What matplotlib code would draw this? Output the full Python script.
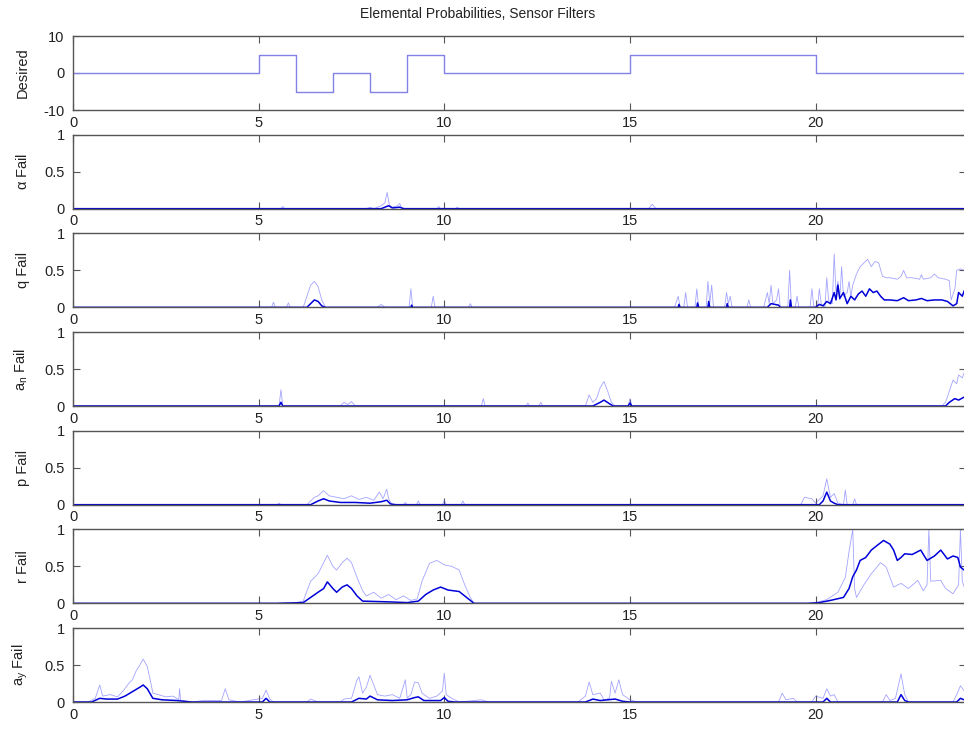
import numpy as np
import matplotlib
matplotlib.use("Agg")
import matplotlib.pyplot as plt

plt.rcParams['font.family'] = ['Liberation Sans', 'DejaVu Sans']
plt.rcParams['mathtext.fontset'] = 'custom'
plt.rcParams['mathtext.rm'] = 'Liberation Sans'
plt.rcParams['mathtext.it'] = 'Liberation Sans'
plt.rcParams['axes.unicode_minus'] = False

# ---- commanded input ----
desired_t = [0, 5, 6, 7, 8, 9, 10, 15, 20, 24]
desired_v = [0, 5, -5, 0, -5, 5, 0, 5, 0, 0]

# ---- failure probabilities, (time, probability) pairs ----
alpha_light = [(0, 0), (5.6, 0), (5.65, 0.03), (5.7, 0), (7.9, 0), (8.0, 0.02), (8.1, 0),
               (8.3, 0.04), (8.4, 0.08), (8.46, 0.22), (8.52, 0.05), (8.6, 0.02), (8.75, 0.04),
               (8.8, 0.07), (8.85, 0.01), (9.0, 0), (9.8, 0), (9.85, 0.03), (9.9, 0), (10.3, 0),
               (10.35, 0.02), (10.4, 0), (15.5, 0), (15.6, 0.06), (15.7, 0), (24, 0)]
alpha_dark = [(0, 0), (8.3, 0), (8.4, 0.02), (8.5, 0.04), (8.6, 0.01), (8.8, 0.02), (8.9, 0), (24, 0)]

q_light = [(0, 0), (5.35, 0), (5.4, 0.07), (5.45, 0), (5.75, 0), (5.8, 0.06), (5.85, 0),
           (6.2, 0), (6.3, 0.15), (6.4, 0.3), (6.5, 0.35), (6.6, 0.28), (6.7, 0.1), (6.8, 0),
           (8.2, 0), (8.3, 0.04), (8.4, 0), (9.05, 0), (9.1, 0.25), (9.15, 0), (9.65, 0),
           (9.7, 0.15), (9.75, 0), (10.65, 0), (10.7, 0.05), (10.75, 0), (16.2, 0), (16.3, 0.15),
           (16.35, 0), (16.45, 0), (16.5, 0.2), (16.55, 0), (16.75, 0), (16.8, 0.25), (16.85, 0),
           (17.05, 0), (17.1, 0.35), (17.15, 0.05), (17.2, 0.3), (17.25, 0), (17.55, 0),
           (17.6, 0.2), (17.65, 0.05), (17.7, 0.15), (17.75, 0), (18.15, 0), (18.2, 0.1),
           (18.25, 0), (18.6, 0), (18.7, 0.2), (18.75, 0.05), (18.8, 0.3), (18.85, 0.05),
           (18.95, 0.1), (19.0, 0.25), (19.05, 0), (19.25, 0), (19.3, 0.5), (19.35, 0),
           (19.45, 0), (19.5, 0.15), (19.55, 0), (19.85, 0), (19.9, 0.25), (19.95, 0.02),
           (20.05, 0), (20.1, 0.25), (20.15, 0.05), (20.25, 0), (20.3, 0.4), (20.35, 0.1),
           (20.45, 0.05), (20.5, 0.72), (20.55, 0.2), (20.6, 0.35), (20.65, 0.1), (20.7, 0.55),
           (20.75, 0.15), (20.85, 0.2), (20.9, 0.35), (20.95, 0.15), (21.0, 0.3), (21.1, 0.45),
           (21.2, 0.55), (21.3, 0.6), (21.4, 0.65), (21.5, 0.55), (21.6, 0.62), (21.7, 0.6),
           (21.8, 0.42), (21.9, 0.4), (22.0, 0.4), (22.2, 0.38), (22.3, 0.42), (22.37, 0.5),
           (22.45, 0.4), (22.6, 0.4), (22.8, 0.38), (22.85, 0.44), (22.9, 0.38), (23.1, 0.4),
           (23.2, 0.45), (23.3, 0.4), (23.5, 0.38), (23.6, 0.36), (23.65, 0.1), (23.75, 0.25),
           (23.8, 0.5), (23.9, 0.52), (24, 0.5)]
q_dark = [(0, 0), (6.3, 0), (6.4, 0.05), (6.5, 0.1), (6.6, 0.08), (6.7, 0.02), (6.8, 0),
          (9.1, 0), (9.12, 0.03), (9.15, 0), (16.3, 0), (16.32, 0.04), (16.35, 0), (16.8, 0),
          (16.82, 0.06), (16.85, 0), (17.1, 0), (17.12, 0.08), (17.15, 0), (17.6, 0),
          (17.62, 0.05), (17.65, 0), (18.7, 0), (18.8, 0.05), (19.0, 0.03), (19.05, 0),
          (19.3, 0), (19.32, 0.1), (19.35, 0), (20.0, 0), (20.1, 0.04), (20.2, 0.02),
          (20.3, 0.08), (20.4, 0.05), (20.5, 0.2), (20.55, 0.1), (20.6, 0.3), (20.65, 0.12),
          (20.75, 0.2), (20.85, 0.05), (20.95, 0.15), (21.05, 0.1), (21.15, 0.18),
          (21.25, 0.22), (21.35, 0.15), (21.45, 0.25), (21.55, 0.2), (21.65, 0.22),
          (21.75, 0.15), (21.85, 0.1), (22.0, 0.1), (22.2, 0.09), (22.37, 0.13), (22.5, 0.09),
          (22.7, 0.1), (22.85, 0.12), (23.0, 0.09), (23.2, 0.1), (23.4, 0.1), (23.55, 0.08),
          (23.7, 0.02), (23.8, 0.05), (23.85, 0.2), (23.95, 0.15), (24, 0.22)]

an_light = [(0, 0), (5.55, 0), (5.6, 0.22), (5.65, 0), (7.2, 0), (7.3, 0.05), (7.4, 0.02),
            (7.5, 0.06), (7.6, 0), (11.0, 0), (11.05, 0.1), (11.1, 0), (12.2, 0), (12.25, 0.04),
            (12.3, 0), (12.55, 0), (12.6, 0.05), (12.65, 0), (13.8, 0), (13.9, 0.15),
            (14.0, 0.05), (14.1, 0.1), (14.2, 0.25), (14.3, 0.33), (14.4, 0.2), (14.5, 0.05),
            (14.6, 0), (14.95, 0), (15.0, 0.1), (15.05, 0), (23.4, 0), (23.5, 0.05),
            (23.6, 0.2), (23.7, 0.35), (23.8, 0.3), (23.85, 0.42), (23.95, 0.38), (24, 0.45)]
an_dark = [(0, 0), (5.55, 0), (5.6, 0.05), (5.65, 0), (14.0, 0), (14.2, 0.05), (14.3, 0.08),
           (14.45, 0.03), (14.55, 0), (14.95, 0), (15.0, 0.04), (15.05, 0), (23.5, 0),
           (23.6, 0.05), (23.75, 0.1), (23.85, 0.08), (24, 0.12)]

p_light = [(0, 0), (5.5, 0), (5.55, 0.02), (5.6, 0), (6.3, 0), (6.5, 0.1), (6.6, 0.12),
           (6.75, 0.19), (6.9, 0.12), (7.1, 0.1), (7.3, 0.08), (7.5, 0.12), (7.7, 0.07),
           (7.9, 0.1), (8.1, 0.06), (8.25, 0.17), (8.35, 0.08), (8.45, 0.21), (8.5, 0.08),
           (8.6, 0), (8.9, 0), (8.95, 0.03), (9.0, 0), (9.25, 0), (9.3, 0.05), (9.35, 0),
           (9.95, 0), (10.0, 0.06), (10.05, 0), (10.45, 0), (10.5, 0.05), (10.55, 0),
           (19.6, 0), (19.7, 0.1), (19.9, 0.08), (20.0, 0.02), (20.2, 0.12), (20.3, 0.35),
           (20.4, 0.1), (20.5, 0.15), (20.6, 0.02), (20.75, 0), (20.8, 0.2), (20.85, 0),
           (21.0, 0), (21.05, 0.08), (21.1, 0), (24, 0)]
p_dark = [(0, 0), (6.4, 0), (6.6, 0.05), (6.75, 0.08), (6.9, 0.05), (7.2, 0.03), (7.6, 0.03),
          (8.0, 0.02), (8.3, 0.04), (8.45, 0.06), (8.55, 0.01), (8.7, 0), (20.1, 0),
          (20.2, 0.05), (20.3, 0.17), (20.4, 0.05), (20.5, 0.02), (20.6, 0), (24, 0)]

r_light = [(0, 0), (5.5, 0), (6.0, 0.01), (6.2, 0.03), (6.4, 0.3), (6.6, 0.4), (6.75, 0.55),
           (6.85, 0.65), (7.0, 0.5), (7.1, 0.45), (7.25, 0.55), (7.38, 0.61), (7.5, 0.55),
           (7.65, 0.35), (7.8, 0.17), (7.9, 0.1), (8.1, 0.15), (8.3, 0.07), (8.5, 0.12),
           (8.7, 0.05), (8.9, 0.1), (9.1, 0.04), (9.27, 0.06), (9.4, 0.3), (9.6, 0.54),
           (9.8, 0.58), (10.0, 0.52), (10.2, 0.5), (10.4, 0.45), (10.55, 0.25), (10.7, 0.08),
           (10.8, 0), (19.8, 0), (20.0, 0.01), (20.3, 0.05), (20.6, 0.15), (20.8, 0.35),
           (20.9, 0.7), (21.0, 1.0), (21.05, 0.2), (21.1, 0.08), (21.3, 0.25), (21.5, 0.4),
           (21.75, 0.55), (21.9, 0.49), (22.1, 0.22), (22.3, 0.27), (22.5, 0.2), (22.75, 0.31),
           (22.9, 0.17), (23.0, 0.25), (23.05, 1.0), (23.1, 0.3), (23.37, 0.31), (23.5, 0.2),
           (23.7, 0.13), (23.85, 0.25), (23.9, 1.0), (23.95, 0.3), (24, 0.22)]
r_dark = [(0, 0), (5.5, 0), (6.2, 0.01), (6.4, 0.08), (6.6, 0.15), (6.75, 0.2), (6.85, 0.29),
          (7.0, 0.2), (7.1, 0.15), (7.25, 0.22), (7.38, 0.25), (7.5, 0.2), (7.65, 0.1),
          (7.8, 0.03), (8.5, 0.02), (9.0, 0.01), (9.3, 0.03), (9.5, 0.12), (9.7, 0.18),
          (9.9, 0.22), (10.1, 0.18), (10.4, 0.16), (10.6, 0.08), (10.8, 0), (19.8, 0),
          (20.1, 0.01), (20.4, 0.04), (20.75, 0.08), (20.9, 0.2), (21.0, 0.36), (21.1, 0.45),
          (21.2, 0.58), (21.35, 0.62), (21.5, 0.72), (21.65, 0.78), (21.83, 0.85), (22.0, 0.8),
          (22.1, 0.72), (22.2, 0.58), (22.3, 0.62), (22.4, 0.67), (22.6, 0.66), (22.83, 0.72),
          (23.0, 0.58), (23.2, 0.64), (23.37, 0.72), (23.55, 0.6), (23.7, 0.64), (23.83, 0.62),
          (23.9, 0.49), (24, 0.45)]

ay_light = [(0, 0), (0.4, 0), (0.6, 0.05), (0.72, 0.23), (0.8, 0.08), (1.0, 0.1), (1.2, 0.07),
            (1.35, 0.15), (1.5, 0.25), (1.6, 0.3), (1.7, 0.42), (1.8, 0.5), (1.89, 0.58),
            (2.0, 0.48), (2.1, 0.25), (2.15, 0.12), (2.3, 0.1), (2.5, 0.07), (2.7, 0.08),
            (2.85, 0.03), (2.87, 0.18), (2.9, 0.02), (3.2, 0), (3.5, 0.02), (4.0, 0.02),
            (4.1, 0.18), (4.2, 0.03), (4.5, 0), (5.1, 0.05), (5.2, 0.16), (5.3, 0.04), (5.4, 0),
            (6.3, 0), (6.4, 0.04), (6.6, 0), (7.2, 0), (7.3, 0.04), (7.5, 0.05), (7.65, 0.3),
            (7.7, 0.34), (7.8, 0.12), (7.9, 0.2), (8.0, 0.36), (8.1, 0.23), (8.2, 0.1),
            (8.4, 0.08), (8.6, 0.1), (8.8, 0.05), (8.95, 0.3), (9.0, 0.05), (9.1, 0.1),
            (9.2, 0.27), (9.3, 0.26), (9.4, 0.12), (9.6, 0.05), (9.8, 0.08), (9.95, 0.15),
            (10.0, 0.39), (10.05, 0.1), (10.2, 0.05), (10.4, 0), (11.0, 0.03), (11.2, 0),
            (13.6, 0), (13.8, 0.08), (13.9, 0.27), (14.0, 0.1), (14.2, 0.12), (14.3, 0.03),
            (14.45, 0.05), (14.5, 0.28), (14.6, 0.12), (14.7, 0.3), (14.8, 0.1), (15.0, 0.03),
            (15.2, 0), (19.0, 0), (19.1, 0.12), (19.2, 0.03), (19.4, 0.05), (19.5, 0),
            (19.9, 0), (20.0, 0.08), (20.2, 0.05), (20.3, 0.18), (20.4, 0.08), (20.5, 0.1),
            (20.6, 0), (21.8, 0), (21.9, 0.1), (22.0, 0.02), (22.15, 0.05), (22.3, 0.38),
            (22.4, 0.1), (22.5, 0), (23.7, 0), (23.8, 0.1), (23.9, 0.22), (24, 0.15)]
ay_dark = [(0, 0), (0.5, 0), (0.72, 0.05), (0.9, 0.04), (1.2, 0.04), (1.4, 0.08), (1.6, 0.14),
           (1.8, 0.2), (1.89, 0.23), (2.0, 0.18), (2.15, 0.05), (2.4, 0.03), (2.8, 0.02),
           (3.2, 0), (5.1, 0), (5.2, 0.05), (5.3, 0), (7.5, 0), (7.7, 0.05), (7.9, 0.04),
           (8.0, 0.08), (8.2, 0.03), (8.6, 0.02), (9.0, 0.03), (9.2, 0.06), (9.3, 0.07),
           (9.45, 0.02), (9.9, 0.02), (10.0, 0.06), (10.1, 0.01), (10.3, 0), (13.8, 0),
           (14.0, 0.04), (14.2, 0.02), (14.6, 0.04), (14.8, 0.01), (15.0, 0), (20.2, 0),
           (20.3, 0.05), (20.4, 0), (22.2, 0), (22.3, 0.1), (22.4, 0.02), (22.5, 0),
           (23.8, 0), (23.9, 0.05), (24, 0.03)]

fail_labels = [r'$\alpha$ Fail', 'q Fail', r'a$_n$ Fail', 'p Fail', 'r Fail', r'a$_y$ Fail']
fail_series = [(alpha_light, alpha_dark), (q_light, q_dark), (an_light, an_dark),
               (p_light, p_dark), (r_light, r_dark), (ay_light, ay_dark)]
x_ticks = [0, 5, 10, 15, 20]

W, H = 964, 729
fig = plt.figure(figsize=(W / 100, H / 100), dpi=100)

axis_color = '#555555'
text_color = '#222222'
left_px, right_px = 73, 966
top0_px, step_px, height_px = 36, 98.67, 74


def make_axes(i):
    top = top0_px + step_px * i
    rect = [left_px / W, 1 - (top + height_px) / H, (right_px - left_px) / W, height_px / H]
    ax = fig.add_axes(rect)
    ax.patch.set_alpha(0)
    ax.set_xlim(0, 24.05)
    ax.set_xticks(x_ticks)
    ax.set_xticklabels([str(t) for t in x_ticks])
    ax.tick_params(direction='in', top=True, right=True, length=5, width=0.8,
                   colors=axis_color, labelcolor=text_color, labelsize=10.5, pad=4)
    ax.tick_params(axis='y', pad=6)
    for s in ['top', 'bottom', 'left']:
        ax.spines[s].set_color(axis_color)
        ax.spines[s].set_linewidth(1.0)
    ax.spines['right'].set_visible(False)
    ax.yaxis.set_label_coords(-0.048, 0.5)
    return ax


ax0 = make_axes(0)
ax0.plot(desired_t, desired_v, drawstyle='steps-post', color='#8282e6', lw=1.0)
ax0.set_ylim(-10, 10)
ax0.set_yticks([-10, 0, 10])
ax0.set_ylabel('Desired', fontsize=10.5, color=text_color)

for i, (label, (light, dark)) in enumerate(zip(fail_labels, fail_series), start=1):
    ax = make_axes(i)
    lt, lv = zip(*light)
    dt, dv = zip(*dark)
    ax.plot(lt, lv, color=(0.35, 0.35, 1.0), lw=0.6, alpha=0.55)
    ax.plot(dt, dv, color=(0.0, 0.0, 0.85), lw=1.1)
    ax.set_ylim(0, 1)
    ax.set_yticks([0, 0.5, 1])
    ax.set_yticklabels(['0', '0.5', '1'])
    ax.set_ylabel(label, fontsize=10.5, color=text_color)

fig.text(478 / W, 1 - 14 / H, 'Elemental Probabilities, Sensor Filters',
         ha='center', va='center', fontsize=10, color=text_color)

fig.savefig('out.png', dpi=100)
